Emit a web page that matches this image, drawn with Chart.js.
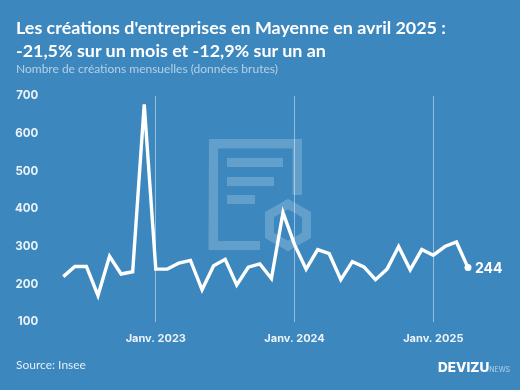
<!DOCTYPE html>
<html lang="fr">
<head>
    <meta charset="UTF-8">
    <title>Créations d'entreprises en Mayenne</title>
    <style>
        html, body { margin: 0; padding: 0; background: #3d87bf; }
        #wrap { position: relative; width: 520px; height: 390px; overflow: hidden; background: #3d87bf; color: #fff; font-family: Lato, sans-serif; }
        #wrap > * { position: absolute; }
        #myChart { left: 0; top: 0; }
        #mark { left: 0; top: 0; }
        #title { left: 16px; top: 16px; font-size: 17.9px; line-height: 22.5px; font-weight: 700; white-space: nowrap; margin: 0; }
        #sub { left: 16px; top: 61px; font-size: 12px; line-height: 16px; color: rgba(255,255,255,.6); white-space: nowrap; }
        #source { left: 16px; top: 357px; font-size: 12px; line-height: 16px; color: rgba(255,255,255,.85); }
        #logo { left: 438px; top: 359px; font-family: Inter, sans-serif; font-size: 13.5px; line-height: 17px; font-weight: 800; white-space: nowrap; }
        #logo span { font-size: 7px; font-weight: 400; color: rgba(255,255,255,.6); }
    </style>
</head>
<body>
<div id="wrap">
    <svg id="mark" width="520" height="390">
        <g fill="rgba(255,255,255,.2)">
            <path d="M209 139h93v56h-9.500v-46.500h-74.500v92.500h42v9h-51.500z"/>
            <rect x="227" y="158" width="56" height="9"/>
            <rect x="227" y="177" width="47" height="9"/>
            <rect x="227" y="195" width="28" height="9"/>
        </g>
        <path d="M288 204l18.500 10.500v21l-18.500 10.500l-18.500-10.500v-21z" fill="none" stroke="rgba(255,255,255,.2)" stroke-width="9"/>
    </svg>
    <canvas id="myChart" width="520" height="390"></canvas>
    <h1 id="title">Les créations d'entreprises en Mayenne en avril 2025 :<br>-21,5% sur un mois et -12,9% sur un an</h1>
    <div id="sub">Nombre de créations mensuelles (données brutes)</div>
    <div id="source">Source: Insee</div>
    <div id="logo">DEVIZU<span>NEWS</span></div>
</div>
<script src="https://cdn.jsdelivr.net/npm/chart.js"></script>
<script>
    const months = [
        '2022-05', '2022-06', '2022-07', '2022-08', '2022-09', '2022-10', '2022-11', '2022-12',
        '2023-01', '2023-02', '2023-03', '2023-04', '2023-05', '2023-06', '2023-07', '2023-08', '2023-09', '2023-10', '2023-11', '2023-12',
        '2024-01', '2024-02', '2024-03', '2024-04', '2024-05', '2024-06', '2024-07', '2024-08', '2024-09', '2024-10', '2024-11', '2024-12',
        '2025-01', '2025-02', '2025-03', '2025-04'
    ];
    const creations = [
        220, 247, 247, 170, 274, 227, 233, 678,
        240, 240, 256, 263, 185, 249, 266, 198, 245, 254, 215, 390,
        305, 240, 292, 281, 212, 260, 246, 212, 240, 300, 238, 292,
        277, 300, 312, 244
    ];
    const yearTicks = { '2023-01': 'Janv. 2023', '2024-01': 'Janv. 2024', '2025-01': 'Janv. 2025' };

    // value next to the last point
    const lastLabel = {
        id: 'lastLabel',
        afterDatasetsDraw(chart) {
            const pts = chart.getDatasetMeta(0).data;
            const p = pts[pts.length - 1];
            const ctx = chart.ctx;
            ctx.save();
            ctx.fillStyle = '#fff';
            ctx.font = '700 14px Inter';
            ctx.textBaseline = 'middle';
            ctx.fillText(creations[creations.length - 1], p.x + 7, p.y + 1);
            ctx.restore();
        }
    };

    new Chart(document.getElementById('myChart'), {
        type: 'line',
        data: {
            labels: months,
            datasets: [{
                data: creations,
                borderColor: '#fff',
                borderWidth: 3.4,
                borderJoinStyle: 'miter',
                tension: 0,
                pointBackgroundColor: '#fff',
                pointBorderWidth: 0,
                pointRadius: (c) => c.dataIndex === creations.length - 1 ? 3.5 : 0
            }]
        },
        options: {
            responsive: false,
            animation: false,
            layout: { padding: { left: -10, right: 52, top: 96, bottom: 35 } },
            plugins: { legend: { display: false }, tooltip: { enabled: false } },
            scales: {
                x: {
                    offset: false,
                    border: { display: false },
                    grid: {
                        drawTicks: false,
                        lineWidth: 1,
                        color: (c) => yearTicks[months[c.index]] ? 'rgba(255,255,255,.45)' : 'transparent'
                    },
                    ticks: {
                        autoSkip: false,
                        maxRotation: 0,
                        padding: 10,
                        color: 'rgba(255,255,255,.9)',
                        font: { family: 'Inter', size: 11, weight: '700' },
                        callback: (v, i) => yearTicks[months[i]] || ''
                    }
                },
                y: {
                    min: 100,
                    max: 700,
                    border: { display: false },
                    grid: { display: false, drawTicks: false },
                    ticks: { stepSize: 100, padding: 25, color: 'rgba(255,255,255,.9)', font: { family: 'Inter', size: 11.5, weight: '700' } }
                }
            }
        },
        plugins: [lastLabel]
    });
</script>
</body>
</html>
